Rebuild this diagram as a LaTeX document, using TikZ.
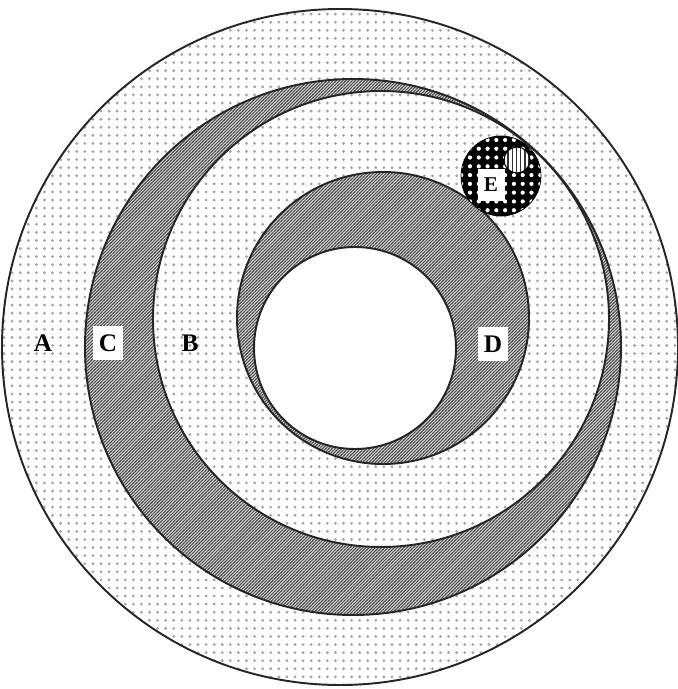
\documentclass[tikz,border=0pt]{standalone}
\usepackage{fontspec}
\setmainfont{Liberation Serif}
\usepackage{tikz}
\usetikzlibrary{patterns}

\pgfdeclarepatternformonly{sparsedots}{\pgfqpoint{-1pt}{-1pt}}{\pgfqpoint{5.5pt}{5.5pt}}{\pgfqpoint{4.6pt}{4.6pt}}{
  \pgfpathcircle{\pgfqpoint{2.3pt}{2.3pt}}{0.9pt}
  \pgfusepath{fill}
}
\pgfdeclarepatternformonly{bigdots}{\pgfqpoint{-1pt}{-1pt}}{\pgfqpoint{6pt}{6pt}}{\pgfqpoint{5pt}{5pt}}{
  \pgfpathcircle{\pgfqpoint{2.5pt}{2.5pt}}{1.2pt}
  \pgfusepath{fill}
}
\pgfdeclarepatternformonly{finehatch}{\pgfqpoint{-1pt}{-1pt}}{\pgfqpoint{3pt}{3pt}}{\pgfqpoint{1.8pt}{1.8pt}}{
  \pgfsetlinewidth{0.45pt}
  \pgfpathmoveto{\pgfqpoint{-0.5pt}{-0.5pt}}
  \pgfpathlineto{\pgfqpoint{2.3pt}{2.3pt}}
  \pgfusepath{stroke}
}
\pgfdeclarepatternformonly{vstripes}{\pgfqpoint{-1pt}{-1pt}}{\pgfqpoint{3pt}{3pt}}{\pgfqpoint{2.4pt}{2.4pt}}{
  \pgfsetlinewidth{0.8pt}
  \pgfpathmoveto{\pgfqpoint{1.2pt}{-1pt}}
  \pgfpathlineto{\pgfqpoint{1.2pt}{3pt}}
  \pgfusepath{stroke}
}

\tikzstyle{ring} = [draw=black!85, line width=1.1pt]
\tikzstyle{dotzone} = [ring, preaction={fill=white}, pattern=sparsedots, pattern color=gray!70]
\tikzstyle{hatchzone} = [ring, preaction={fill=gray!35}, pattern=finehatch, pattern color=gray!60!black]
\tikzstyle{plainlabel} = [font=\bfseries\Large, inner sep=0pt]
\tikzstyle{boxlabel} = [plainlabel, fill=white, minimum width=0.6cm, minimum height=0.68cm]

\begin{document}
\begin{tikzpicture}[x=0.02cm, y=-0.02cm]
    \useasboundingbox (0,0) rectangle (678,689);
    % Regions
    \filldraw [dotzone] (340,347) circle (338);
    \filldraw [hatchzone] (353,347) circle (268);
    \filldraw [dotzone] (381,319) circle (228);
    \filldraw [hatchzone] (383,318) circle (146);
    \filldraw [ring, fill=white] (355,348) circle (101);
    % E
    \filldraw [draw=black, preaction={fill=black}, pattern=bigdots, pattern color=white] (501,176) circle (40);
    \filldraw [draw=black, line width=0.6pt, preaction={fill=white}, pattern=vstripes, pattern color=black!80] (517,160) circle (13);

    % Labels
    \node [plainlabel] (labA) at (43,343) {A};
    \node [boxlabel] (labC) at (108,343) {C};
    \node [plainlabel] (labB) at (190,343) {B};
    \node [boxlabel] (labD) at (493,344) {D};
    \node [boxlabel, font=\bfseries\large, minimum width=0.54cm, minimum height=0.66cm] (labE) at (491,185) {E};
\end{tikzpicture}
\end{document}
